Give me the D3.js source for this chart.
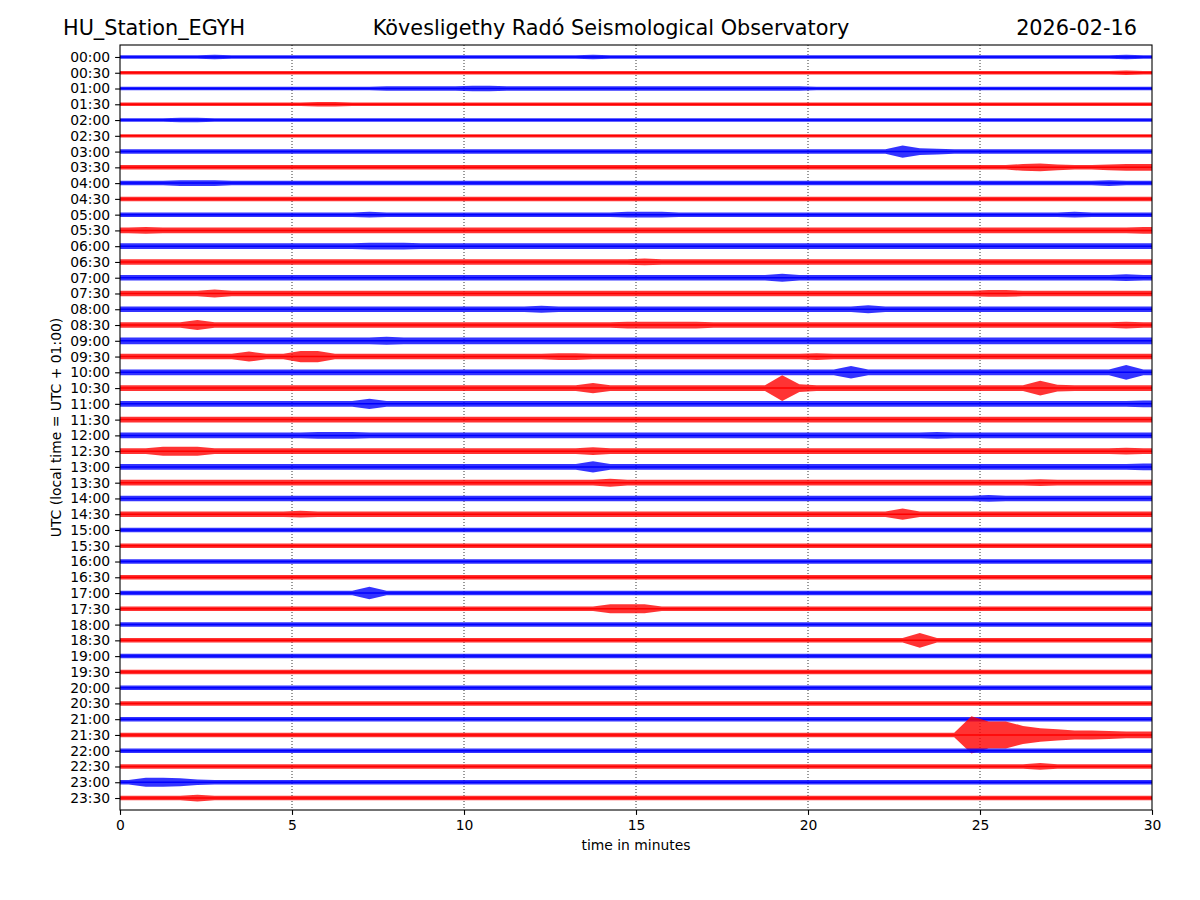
<!DOCTYPE html>
<html><head><meta charset="utf-8">
<script src="https://cdn.jsdelivr.net/npm/d3@7"></script>
<style>body{margin:0;background:#fff}svg{display:block}text{font-family:"DejaVu Sans",sans-serif;fill:#000}</style>
</head><body>
<svg id="c" width="1200" height="900"></svg>
<script>
// Helicorder rows (UTC start time of each 30-minute line)
const rowLabels = ["00:00","00:30","01:00","01:30","02:00","02:30","03:00","03:30","04:00","04:30","05:00","05:30","06:00","06:30","07:00","07:30","08:00","08:30","09:00","09:30","10:00","10:30","11:00","11:30","12:00","12:30","13:00","13:30","14:00","14:30","15:00","15:30","16:00","16:30","17:00","17:30","18:00","18:30","19:00","19:30","20:00","20:30","21:00","21:30","22:00","22:30","23:00","23:30"];
const rowColors = ["blue","red"];
const xTicks = [0,5,10,15,20,25,30];
const binMinutes = 0.5;
// Amplitude envelope per row, one base-36 character per 30-second bin
const envelopes = [
"3333343333 3333333333 3333333433 3333333333 3333333333 3333333343",
"3333333333 3333333333 3333333333 3333333333 3333333333 3333333343",
"3333333333 3333344444 5544444444 4444444444 3333333333 3333333333",
"3333333333 3443333333 3333333333 3333333333 3333333333 3333333333",
"3334433333 3333333333 3333333333 3333333333 3333333333 3333333333",
"3333333333 3333333333 3333333333 3333333333 3333333333 3333333333",
"4444444444 4444444444 4444444444 4444444444 44444b6544 4444444444",
"4444444444 4444444444 4444444444 4444444444 4444444444 4467544566",
"4445554444 4444444444 4444444444 4444444444 4444444444 4444444544",
"4444444444 4444444444 4444444444 4444444444 4444444444 4444444444",
"4444444444 4444544444 4444444445 5544444444 4444444444 4444454444",
"5655555555 5555555555 5555555555 5555555555 5555555555 5555555556",
"5555555555 5555666555 5555555555 5555555555 5555555555 5555555555",
"5555555555 5555555555 5555555555 6555555555 5555555555 5555555555",
"5555555555 5555555555 5555555555 5555555575 5555555555 5555555565",
"5555575555 5555555555 5555555555 5555555555 5555555555 6655555555",
"5555555555 5555555555 5555655555 5555555555 5557555555 5555555555",
"5555955555 5555555555 5555555556 6666555555 5555555555 5555555565",
"6666666666 6666676666 6666666666 6666666666 6666666666 6666666666",
"5555555955 aa55555555 5555566555 5555555555 6555555555 5555555555",
"5555555555 5555555555 5555555555 5555555555 55b5555555 55555555d5",
"5555555555 5555555555 5555555955 55555555n7 5555555555 555d655555",
"5555555555 5555955555 5555555555 5555555555 5555555555 5555555556",
"5555555555 5555555555 5555555555 5555555555 5555555555 5555555555",
"5555555555 5666555555 5555555555 5555555555 5555555655 5555555555",
"5588855555 5555555555 5555555755 5555555555 5555555555 5555555565",
"5555555555 5555555555 5555555a55 5555555555 5555555555 5555555556",
"5555555555 5555555555 5555555575 5555555555 5555555555 5556555555",
"5555555555 5555555555 5555555555 5555555555 5555555555 6555555555",
"5555555555 6555555555 5555555555 5555555555 55555a5555 5555555555",
"4444444444 4444444444 4444444444 4444444444 4444444444 4444444444",
"4444444444 4444444444 4444444444 4444444444 4444444444 4444444444",
"4444444444 4444444444 4444444444 4444444444 4444444444 4444444444",
"4444444444 4444444444 4444444444 4444444444 4444444444 4444444444",
"4444444444 4444b44444 4444444444 4444444444 4444444444 4444444444",
"4444444444 4444444444 4444444488 8444444444 4444444444 4444444444",
"4444444444 4444444444 4444444444 4444444444 4444444444 4444444444",
"4444444444 4444444444 4444444444 4444444444 444444d444 4444444444",
"4444444444 4444444444 4444444444 4444444444 4444444444 4444444444",
"4444444444 4444444444 4444444444 4444444444 4444444444 4444444444",
"4444444444 4444444444 4444444444 4444444444 4444444444 4444444444",
"4444444444 4444444444 4444444444 4444444444 4444444444 4444444444",
"4444444444 4444444444 4444444444 4444444444 4444444444 4444444444",
"4444444444 4444444444 4444444444 4444444444 444444444x oogca88766",
"4444444444 4444444444 4444444444 4444444444 4444444444 4444444444",
"4444444444 4444444444 4444444444 4444444444 4444444444 4446444444",
"4887544444 4444444444 4444444444 4444444444 4444444444 4444444444",
"4444644444 4444444444 4444444444 4444444444 4444444444 4444444444"
];
const ampUnit = 1/28; // one envelope step, in row heights

const svg = d3.select("#c");
const L=120,R=1152,T=45,B=810;
const x = d3.scaleLinear().domain([0,30]).range([L,R]);
const y = d3.scaleLinear().domain([-0.76,47.76]).range([T,B]);

// grid
svg.append("g").selectAll("line").data(xTicks.slice(1,-1)).join("line")
  .attr("x1",d=>x(d)).attr("x2",d=>x(d)).attr("y1",T).attr("y2",B)
  .attr("stroke","#000").attr("stroke-width",0.8).attr("stroke-dasharray","1,2");

// traces
svg.append("clipPath").attr("id","pc").append("rect").attr("x",L).attr("y",T).attr("width",R-L).attr("height",B-T);
const gT = svg.append("g").attr("clip-path","url(#pc)");
envelopes.forEach((s,row)=>{
  const vals = s.replace(/ /g,"").split("").map(ch=>parseInt(ch,36));
  const pts = [];
  pts.push({t:0,a:vals[0]});
  vals.forEach((a,i)=>pts.push({t:(i+0.5)*binMinutes,a}));
  pts.push({t:30,a:vals[vals.length-1]});
  const col = rowColors[row%2];
  const area = d3.area().x(d=>x(d.t)).y0(d=>y(row - d.a*ampUnit)).y1(d=>y(row + d.a*ampUnit));
  gT.append("path").attr("d",area(pts)).attr("fill",col).attr("fill-opacity",0.8);
  gT.append("path").attr("d",d3.line().x(d=>x(d.t)).y(()=>y(row))(pts)).attr("stroke",col).attr("stroke-width",1.5).attr("fill","none");
});

// frame
svg.append("rect").attr("x",L).attr("y",T).attr("width",R-L).attr("height",B-T).attr("fill","none").attr("stroke","#000").attr("stroke-width",1.1);

// axes
const xa = svg.append("g").attr("transform",`translate(0,${B})`)
  .call(d3.axisBottom(x).tickValues(xTicks).tickFormat(d3.format("d")).tickSize(4.9).tickPadding(4.9));
const ya = svg.append("g").attr("transform",`translate(${L},0)`)
  .call(d3.axisLeft(y).tickValues(d3.range(rowLabels.length)).tickFormat(i=>rowLabels[i]).tickSize(4.9).tickPadding(4.9));
[xa,ya].forEach(g=>{g.select(".domain").remove();g.selectAll("text").attr("font-size","13.9px").attr("font-family","DejaVu Sans");g.selectAll("line").attr("stroke","#000").attr("stroke-width",1.1);});

// labels
svg.append("text").attr("x",(L+R)/2).attr("y",850).attr("text-anchor","middle").attr("font-size","13.9px").text("time in minutes");
svg.append("text").attr("transform",`translate(61,${(T+B)/2}) rotate(-90)`).attr("text-anchor","middle").attr("font-size","13.9px").text("UTC (local time = UTC + 01:00)");
svg.append("text").attr("x",63).attr("y",35).attr("font-size","20.8px").text("HU_Station_EGYH");
svg.append("text").attr("x",611).attr("y",35).attr("text-anchor","middle").attr("font-size","20.8px").text("Kövesligethy Radó Seismological Observatory");
svg.append("text").attr("x",1137).attr("y",35).attr("text-anchor","end").attr("font-size","20.8px").text("2026-02-16");
</script>
</body></html>
